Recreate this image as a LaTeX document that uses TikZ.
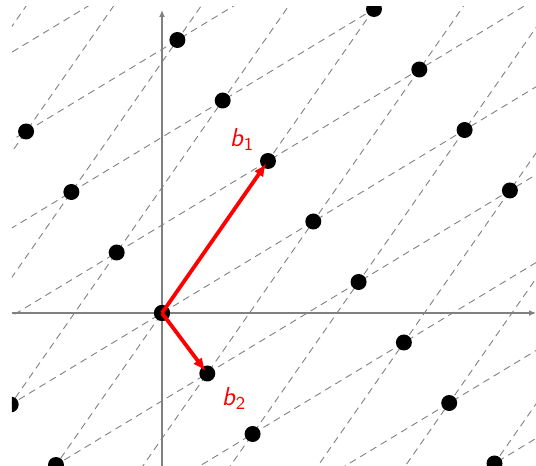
\documentclass[tikz,border=0pt]{standalone}
\usepackage{tikz}
\usetikzlibrary{arrows.meta, calc}

\begin{document}
\begin{tikzpicture}[x=0.5pt, y=0.5pt, >={Latex[length=6.5pt, width=5.5pt]}]
    \useasboundingbox (-162,-153) rectangle (374,313);
    % Gốc và các vectơ cơ sở
    \coordinate (O) at (0,0);
    \coordinate (B1) at (106,152);
    \coordinate (B2) at (45.3,-60.5);
    
    % Lưới nét đứt và các điểm
    \begin{scope}
        \clip (-150,-153) rectangle (374,306);
        \foreach \c in {-6,...,7} {
            \draw[gray, line width=0.45pt, dash pattern=on 3.5pt off 2.5pt]
                ({45.3*\c-4*106},{-60.5*\c-4*152}) -- ({45.3*\c+4*106},{-60.5*\c+4*152});
            \draw[gray, line width=0.45pt, dash pattern=on 3.5pt off 2.5pt]
                ({45.3*\c-4*151.3},{-60.5*\c-4*91.5}) -- ({45.3*\c+4*151.3},{-60.5*\c+4*91.5});
        }
        \foreach \a in {-3,...,4} {
            \foreach \b in {-8,...,8} {
                \fill ({106*\a+45.3*\b},{152*\a-60.5*\b}) circle (4pt);
            }
        }
    \end{scope}
    
    % Vẽ hệ trục
    \coordinate (xL) at (-150,0);
    \coordinate (xR) at (374,0);
    \coordinate (yB) at (0,-153);
    \coordinate (yT) at (0,303);
    \draw[gray, line width=0.6pt, -{Latex[length=3.5pt, width=3pt]}] (xL) -- (xR);
    \draw[gray, line width=0.6pt, -{Latex[length=3.5pt, width=3pt]}] (yB) -- (yT);
    \fill (O) circle (4pt);
    
    % Các vectơ b1, b2
    \draw[->, red, line width=1.9pt, shorten >=1.5pt] (O) -- (B1);
    \draw[->, red, line width=1.9pt, shorten >=1.5pt] (O) -- (B2);
    \node[red, font=\fontsize{13}{15}\selectfont\sffamily] (lb1) at (80,174) {\textit{b}\textsubscript{1}};
    \node[red, font=\fontsize{13}{15}\selectfont\sffamily] (lb2) at (72,-85) {\textit{b}\textsubscript{2}};
    
\end{tikzpicture}
\end{document}
